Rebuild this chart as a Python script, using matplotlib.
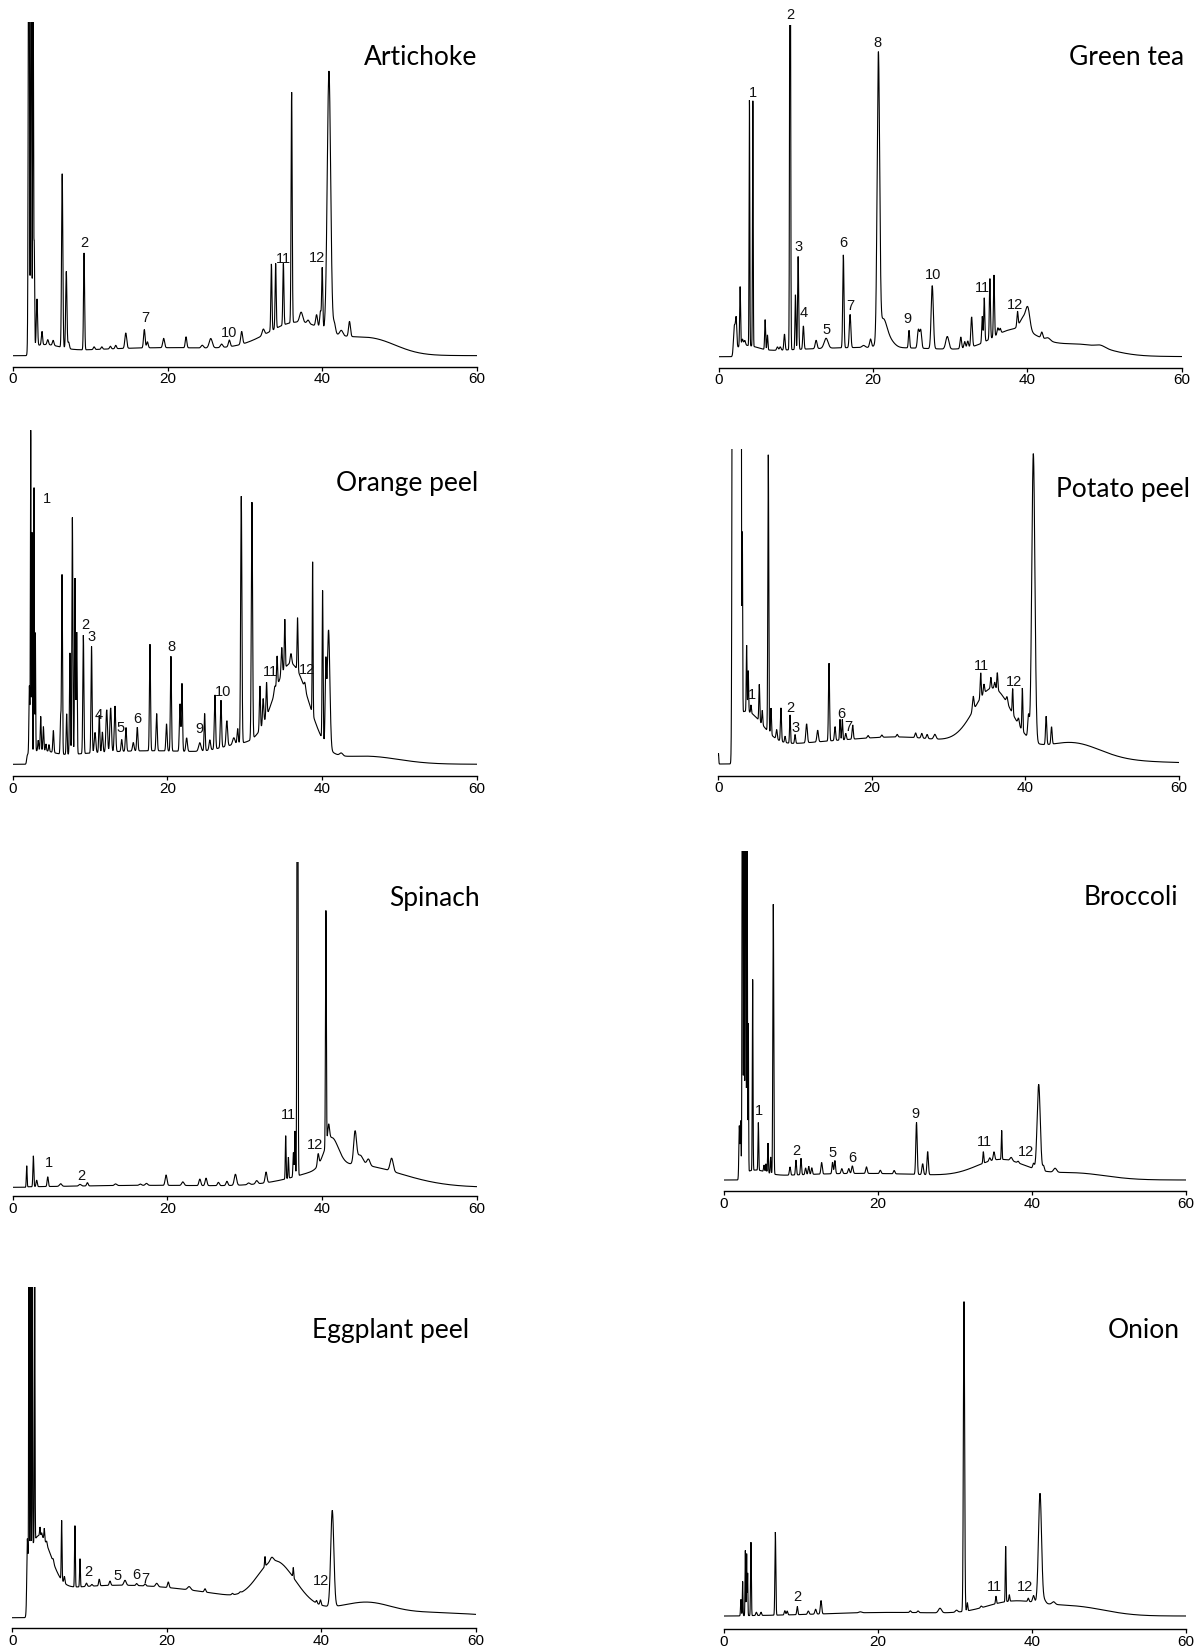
import numpy as np
import matplotlib
matplotlib.use("Agg")
import matplotlib.pyplot as plt

# HPLC chromatograms of eight plant extracts, retention time 0-60 min.
# Peaks: (retention time [min], height [% full scale], sigma [min]).
# Drift: broad baseline components with the same fields.
# Labels: (peak number, retention time of the label, label height [% full scale]).

TIME = np.linspace(0, 60, 6001)

artichoke_onset = 1.85
artichoke_drift = [(4.0, 2.2, 2.0), (20, 2.4, 13), (37.0, 9.0, 4.0), (46.5, 4.5, 3.2)]
artichoke_peaks = [
    (2.05, 160, 0.07), (2.35, 150, 0.06), (2.6, 120, 0.05), (2.75, 30, 0.05), (3.1, 14, 0.08),
    (3.75, 4, 0.08), (4.5, 1.5, 0.1), (5.2, 1.5, 0.1), (6.37, 52, 0.08), (6.9, 23, 0.08),
    (7.2, 2, 0.1), (9.2, 29, 0.07), (10.5, 0.8, 0.1), (11.5, 0.7, 0.1), (12.6, 0.8, 0.1),
    (13.3, 1.0, 0.1), (14.6, 4.6, 0.12), (17.0, 5.5, 0.1), (17.4, 1.8, 0.1), (19.5, 2.8, 0.12),
    (22.4, 3.3, 0.1), (24.5, 0.8, 0.15), (25.6, 2.8, 0.2), (27.0, 1.0, 0.15), (28.0, 2.0, 0.12),
    (29.6, 3.8, 0.12), (32.4, 1.8, 0.15), (33.45, 20, 0.07), (34.0, 19.5, 0.07), (35.0, 18.5, 0.07),
    (36.07, 69, 0.07), (37.3, 3, 0.2), (38.2, 1, 0.15), (39.3, 3.5, 0.12), (39.8, 5, 0.1),
    (40.03, 18, 0.07), (40.9, 78, 0.22), (41.6, 3, 0.15), (42.5, 1.5, 0.2), (43.56, 4.5, 0.12),
]
artichoke_labels = [("2", 9.21, 33.6), ("7", 17.18, 11.2), ("10", 27.98, 6.7),
                    ("11", 35.04, 29.1), ("12", 39.39, 29.4)]

greentea_onset = 1.9
greentea_drift = [(3.5, 2.0, 1.5), (20, 2.8, 14), (38.5, 7.0, 3.0), (47, 3.2, 3.5)]
greentea_peaks = [
    (2.07, 7, 0.12), (2.29, 8, 0.08), (2.8, 18, 0.06), (3.1, 2, 0.1), (3.4, 1.5, 0.1),
    (4.01, 74, 0.045), (4.45, 74, 0.045), (6.04, 9, 0.06), (6.34, 4.5, 0.06), (7.64, 1, 0.1),
    (8.0, 1, 0.1), (8.55, 4.8, 0.08), (9.28, 170, 0.06), (9.97, 16.5, 0.06), (10.32, 28, 0.07),
    (11.0, 7, 0.08), (12.65, 2.5, 0.12), (13.94, 3, 0.25), (16.18, 28, 0.08), (17.05, 10, 0.1),
    (18.8, 0.6, 0.2), (19.7, 2.5, 0.12), (20.72, 85, 0.16), (21.3, 8, 0.5), (22.2, 2, 0.6),
    (24.69, 5.3, 0.08), (25.9, 5.5, 0.12), (26.2, 5.5, 0.12), (27.7, 19, 0.14), (29.65, 3.8, 0.2),
    (31.4, 3.5, 0.1), (31.9, 2, 0.1), (32.3, 2, 0.1), (32.8, 9, 0.1), (34.18, 8, 0.07),
    (34.44, 13.3, 0.07), (35.17, 18.2, 0.07), (35.7, 18.6, 0.07), (36.2, 2, 0.1), (36.5, 1.5, 0.1),
    (38.75, 4.4, 0.08), (39.6, 4, 0.5), (40.1, 5, 0.25), (41.9, 1.8, 0.12), (42.7, 0.8, 0.3),
    (49.5, 0.7, 0.6),
]
greentea_labels = [("1", 4.4, 79.6), ("2", 9.28, 103.0), ("3", 10.4, 33.2), ("4", 11.09, 13.1),
                   ("5", 14.03, 8.2), ("6", 16.14, 34.4), ("7", 17.13, 15.3), ("8", 20.63, 94.7),
                   ("9", 24.51, 11.3), ("10", 27.84, 24.6), ("11", 34.23, 20.6), ("12", 38.41, 15.7)]

orange_onset = 1.8
orange_drift = [(3.5, 2.0, 1.5), (18, 4.0, 13), (29.5, 3.0, 2.5), (36.0, 28.0, 2.3), (46, 2.0, 4)]
orange_peaks = [
    (2.16, 20, 0.06), (2.33, 95, 0.04), (2.5, 65, 0.04), (2.76, 78, 0.04), (2.93, 35, 0.04),
    (3.3, 3, 0.06), (3.62, 10, 0.06), (3.97, 7, 0.06), (4.3, 2, 0.06), (4.7, 2, 0.06),
    (5.26, 6.5, 0.07), (6.2, 11, 0.06), (6.38, 53, 0.06), (6.98, 12, 0.06), (7.4, 30, 0.06),
    (7.72, 70, 0.06), (8.06, 52, 0.06), (8.28, 36, 0.06), (9.14, 35, 0.07), (10.2, 31.5, 0.07),
    (10.65, 6, 0.1), (11.2, 11, 0.07), (11.6, 6, 0.08), (12.16, 12.5, 0.1), (12.67, 13, 0.1),
    (13.23, 13.5, 0.09), (14.1, 3.5, 0.08), (14.65, 7, 0.08), (15.6, 2.5, 0.1), (16.12, 7, 0.08),
    (17.76, 31.5, 0.07), (18.62, 11, 0.08), (19.9, 8, 0.08), (20.47, 28, 0.07), (21.64, 14, 0.08),
    (21.9, 20, 0.07), (22.5, 4, 0.1), (24.2, 2.5, 0.15), (24.83, 11, 0.07), (25.5, 3, 0.1),
    (26.16, 16, 0.08), (26.94, 14, 0.08), (27.7, 7.5, 0.1), (28.6, 2, 0.15), (29.1, 4.5, 0.08),
    (29.57, 73, 0.08), (30.95, 70, 0.08), (31.98, 13, 0.07), (32.4, 7.5, 0.08), (32.84, 10, 0.07),
    (33.9, 2, 0.1), (34.2, 9, 0.07), (34.8, 8, 0.08), (35.2, 14.6, 0.06), (36.0, 3, 0.1),
    (36.85, 15.6, 0.06), (37.8, 2, 0.1), (38.8, 45, 0.05), (40.09, 44, 0.06), (40.5, 22, 0.08),
    (40.86, 35, 0.17), (42.5, 0.8, 0.2),
]
orange_labels = [("1", 4.4, 78.3), ("2", 9.35, 41.2), ("3", 10.22, 37.7), ("4", 11.08, 14.6),
                 ("5", 14.0, 10.6), ("6", 16.12, 13.3), ("8", 20.56, 34.8), ("9", 24.14, 10.3),
                 ("10", 27.16, 21.5), ("11", 33.28, 27.2), ("12", 38.1, 28.0)]

potato_onset = 1.75
potato_drift = [(3.5, 12.0, 2.2), (20, 7.6, 17), (25, 1.2, 5), (35.8, 19.0, 2.5), (46.3, 4.5, 3.5)]
potato_peaks = [
    (0.02, 3.4, 0.04), (1.9, 300, 0.08), (2.15, 300, 0.08), (2.4, 300, 0.08), (2.65, 300, 0.08),
    (2.9, 300, 0.07), (3.13, 56, 0.04), (3.69, 21, 0.05), (3.9, 13, 0.05), (4.26, 2.5, 0.05),
    (5.34, 11.6, 0.06), (5.73, 4.5, 0.06), (6.51, 88, 0.06), (6.86, 8.4, 0.06), (7.6, 3, 0.08),
    (8.16, 10.6, 0.07), (8.7, 2, 0.07), (9.34, 9, 0.06), (10.0, 2.8, 0.07), (11.5, 6, 0.1),
    (12.94, 3.7, 0.1), (14.42, 24.7, 0.07), (15.2, 4.4, 0.08), (15.85, 6.6, 0.06), (16.15, 6.5, 0.06),
    (16.6, 2, 0.08), (17.5, 4.5, 0.08), (19.5, 0.8, 0.1), (21.3, 0.7, 0.1), (23.3, 0.8, 0.1),
    (25.7, 1.5, 0.1), (26.5, 1.5, 0.1), (27.2, 1.3, 0.1), (28.2, 1.5, 0.15), (33.2, 4.5, 0.1),
    (34.17, 8, 0.07), (34.6, 3, 0.08), (35.5, 3.5, 0.07), (36.0, 2, 0.08), (36.34, 5.5, 0.07),
    (37.6, 2, 0.1), (38.34, 8, 0.06), (39.1, 2, 0.1), (39.6, 13.5, 0.06), (40.4, 7, 0.1),
    (41.03, 91.5, 0.2), (42.7, 9, 0.08), (43.4, 5.5, 0.08),
]
potato_labels = [("1", 4.43, 21.9), ("2", 9.34, 17.9), ("3", 10.12, 11.3), ("6", 16.07, 15.8),
                 ("7", 16.93, 11.9), ("11", 34.3, 31.2), ("12", 38.5, 26.2)]

spinach_onset = 1.75
spinach_drift = [(18, 0.6, 10), (41.2, 9.0, 0.9), (44, 7.0, 6)]
spinach_peaks = [
    (1.81, 6.5, 0.05), (2.67, 9.5, 0.06), (3.1, 2, 0.08), (4.53, 3, 0.08), (6.2, 0.8, 0.15),
    (8.7, 0.5, 0.15), (9.66, 1, 0.1), (13.3, 0.5, 0.15), (16.5, 0.4, 0.15), (17.3, 0.6, 0.15),
    (19.83, 3.2, 0.12), (22.0, 1.1, 0.15), (24.2, 2, 0.12), (25.0, 2.3, 0.12), (26.6, 1, 0.12),
    (27.7, 1.3, 0.12), (28.8, 3.4, 0.15), (30.5, 0.5, 0.15), (31.55, 1, 0.15), (32.76, 3.3, 0.12),
    (35.3, 13.3, 0.05), (35.65, 6.5, 0.05), (36.3, 7.5, 0.06), (36.5, 14, 0.05), (36.82, 200, 0.06),
    (39.5, 3.5, 0.1), (40.5, 72.5, 0.055), (40.85, 5, 0.12), (44.27, 9.5, 0.18), (44.9, 3, 0.4),
    (46.0, 2, 0.2), (49.0, 4, 0.2),
]
spinach_labels = [("1", 4.7, 7.6), ("2", 8.92, 3.5), ("11", 35.65, 22.3), ("12", 39.1, 13.0)]

broccoli_onset = 1.9
broccoli_drift = [(4, 2.0, 1.5), (18, 2.0, 12), (36, 5.5, 3.2), (45.5, 2.0, 4)]
broccoli_peaks = [
    (1.99, 15, 0.06), (2.16, 16, 0.05), (2.4, 200, 0.05), (2.6, 150, 0.04), (2.8, 180, 0.05),
    (3.0, 120, 0.04), (3.16, 45, 0.035), (3.72, 58, 0.045), (4.46, 14.5, 0.05), (5.2, 2, 0.06),
    (5.45, 2.5, 0.05), (5.71, 9, 0.05), (6.06, 5, 0.05), (6.4, 82, 0.06), (8.57, 2.5, 0.08),
    (9.35, 4.5, 0.07), (10.0, 5, 0.07), (10.6, 2, 0.08), (11.0, 2.5, 0.08), (11.4, 2, 0.08),
    (12.68, 3.5, 0.09), (14.1, 3.5, 0.08), (14.4, 4, 0.08), (15.3, 1.5, 0.1), (16.2, 1.5, 0.1),
    (16.67, 2.3, 0.1), (18.5, 2, 0.1), (20.3, 1, 0.1), (22.1, 1, 0.1), (25.0, 15.8, 0.09),
    (25.8, 3.3, 0.1), (26.45, 7, 0.09), (33.68, 3.5, 0.06), (34.5, 1, 0.1), (35.06, 2.5, 0.1),
    (36.06, 8.8, 0.05), (37.3, 1, 0.15), (38.2, 0.5, 0.1), (40.2, 1.5, 0.1), (40.87, 26, 0.2),
    (41.5, 1.5, 0.1), (43.0, 1.2, 0.2),
]
broccoli_labels = [("1", 4.55, 21.1), ("2", 9.44, 8.9), ("5", 14.1, 8.1), ("6", 16.67, 6.8),
                   ("9", 24.89, 20.1), ("11", 33.77, 11.4), ("12", 39.18, 8.4)]

eggplant_onset = 1.85
eggplant_drift = [(3.5, 17.0, 1.5), (14, 9.8, 16), (33.5, 10.0, 2.0), (36, 5.0, 2.0),
                  (46, 3.0, 3.0), (55, 1.2, 6)]
eggplant_peaks = [
    (1.94, 8, 0.05), (2.16, 150, 0.035), (2.37, 150, 0.035), (2.59, 150, 0.035), (2.9, 80, 0.04),
    (3.58, 2.5, 0.05), (3.8, 1, 0.05), (4.14, 3.4, 0.05), (4.45, 1, 0.06), (5.3, 1, 0.08),
    (6.39, 18, 0.05), (6.75, 2, 0.07), (8.11, 18.5, 0.05), (8.76, 8.5, 0.05), (9.6, 1, 0.1),
    (10.3, 0.5, 0.1), (11.26, 2, 0.08), (12.65, 1.3, 0.1), (14.59, 1.5, 0.15), (16.1, 0.6, 0.1),
    (17.2, 0.6, 0.1), (18.7, 1, 0.15), (20.2, 1.7, 0.1), (22.9, 1, 0.2), (24.95, 1, 0.1),
    (28.5, 0.4, 0.1), (29.5, 0.3, 0.1), (32.71, 3, 0.05), (33.6, 1.2, 0.2), (36.38, 3, 0.05),
    (39.4, 0.8, 0.08), (39.9, 1.5, 0.08), (41.43, 29, 0.2),
]
eggplant_labels = [("2", 9.84, 13.9), ("5", 13.64, 12.6), ("6", 16.01, 12.9), ("7", 17.26, 11.7),
                   ("12", 39.97, 11.1)]

onion_onset = 2.0
onion_drift = [(22, 1.1, 9), (37.5, 4.0, 3.5), (45.5, 2.8, 4)]
onion_peaks = [
    (2.2, 5, 0.05), (2.42, 10.5, 0.04), (2.77, 20, 0.04), (2.94, 19, 0.04), (3.07, 13, 0.035),
    (3.5, 22.5, 0.05), (4.2, 1, 0.08), (4.8, 1, 0.08), (6.67, 25.5, 0.06), (7.9, 1.3, 0.08),
    (8.2, 1.2, 0.08), (9.52, 2.5, 0.07), (10.95, 1, 0.1), (11.9, 1.5, 0.1), (12.6, 4.1, 0.09),
    (17.7, 0.3, 0.2), (24.2, 0.5, 0.1), (25.2, 0.5, 0.1), (28.05, 1.4, 0.2), (30.2, 0.6, 0.15),
    (31.17, 95, 0.08), (31.6, 2.5, 0.06), (33.4, 0.5, 0.1), (35.32, 2.3, 0.06), (36.58, 17, 0.05),
    (37.05, 2, 0.06), (39.52, 1, 0.08), (40.2, 2, 0.12), (41.04, 33.6, 0.2), (41.6, 1, 0.2),
    (42.8, 0.8, 0.2),
]
onion_labels = [("2", 9.52, 5.9), ("11", 35.06, 9.0), ("12", 39.09, 9.0)]

SAMPLES = ["Artichoke", "Green tea", "Orange peel", "Potato peel",
           "Spinach", "Broccoli", "Eggplant peel", "Onion"]
SAMPLE_DATA = {
    "Artichoke": (artichoke_onset, artichoke_drift, artichoke_peaks, artichoke_labels),
    "Green tea": (greentea_onset, greentea_drift, greentea_peaks, greentea_labels),
    "Orange peel": (orange_onset, orange_drift, orange_peaks, orange_labels),
    "Potato peel": (potato_onset, potato_drift, potato_peaks, potato_labels),
    "Spinach": (spinach_onset, spinach_drift, spinach_peaks, spinach_labels),
    "Broccoli": (broccoli_onset, broccoli_drift, broccoli_peaks, broccoli_labels),
    "Eggplant peel": (eggplant_onset, eggplant_drift, eggplant_peaks, eggplant_labels),
    "Onion": (onion_onset, onion_drift, onion_peaks, onion_labels),
}

# Panel geometry in figure pixels: x of 0 min, x of 60 min, axis line y,
# detector-zero y, full-scale y; then title right edge and baseline.
W, H = 1195, 1647
LAYOUT = {
    "Artichoke":     (13.0, 476.5, 366.5, 355.7, 21.7, 477.3, 65.0),
    "Green tea":     (718.5, 1181.5, 367.7, 356.7, 25.0, 1184.3, 65.0),
    "Orange peel":   (12.7, 476.5, 776.0, 764.3, 426.0, 478.3, 491.0),
    "Potato peel":   (718.3, 1179.0, 775.7, 764.0, 449.3, 1190.0, 497.3),
    "Spinach":       (12.7, 476.7, 1196.0, 1187.3, 862.3, 479.3, 906.0),
    "Broccoli":      (724.0, 1186.0, 1191.0, 1180.0, 851.0, 1178.3, 905.3),
    "Eggplant peel": (12.3, 475.7, 1628.3, 1617.7, 1286.7, 469.3, 1338.3),
    "Onion":         (724.0, 1186.0, 1629.0, 1616.0, 1290.0, 1179.3, 1338.3),
}

NUMBER_FONT = ["Liberation Sans", "DejaVu Sans"]


def gaussian_sum(t, components):
    y = np.zeros_like(t)
    for centre, height, sigma in components:
        y += height * np.exp(-0.5 * ((t - centre) / sigma) ** 2)
    return y


def chromatogram(t, onset, drift, peaks):
    step = 1.0 / (1.0 + np.exp(-(t - onset) / 0.04))
    return step * gaussian_sum(t, drift) + gaussian_sum(t, peaks)


fig = plt.figure(figsize=(W / 100, H / 100), dpi=100)
fig.patch.set_facecolor("white")

for name in SAMPLES:
    onset, drift, peaks, labels = SAMPLE_DATA[name]
    x0, x60, y_axis, y_zero, y_full, title_x, title_y = LAYOUT[name]
    ax = fig.add_axes([x0 / W, 1 - y_axis / H, (x60 - x0) / W, (y_axis - y_full) / H])
    span = y_zero - y_full
    ax.set_xlim(0, 60)
    ax.set_ylim(-(y_axis - y_zero) / span * 100, 100)

    signal = chromatogram(TIME, onset, drift, peaks)
    ax.plot(TIME, signal, color="black", lw=0.8, solid_joinstyle="miter")

    for text, t_lab, h_lab in labels:
        ax.text(t_lab, h_lab, text, ha="center", va="center", fontsize=10.5,
                family=NUMBER_FONT, color="#111111", clip_on=False)

    for side in ("left", "right", "top"):
        ax.spines[side].set_visible(False)
    ax.spines["bottom"].set_linewidth(1.0)
    ax.set_yticks([])
    ax.set_xticks([0, 20, 40, 60])
    ax.tick_params(axis="x", direction="out", length=2.6, width=0.9, pad=1.5,
                   labelsize=11)
    for lab in ax.get_xticklabels():
        lab.set_family(NUMBER_FONT)
    ax.patch.set_alpha(0)

    fig.text(title_x / W, 1 - title_y / H, name, ha="right", va="baseline",
             fontsize=19, family="Lato", color="black")

fig.savefig("out.png", dpi=100, facecolor="white")
